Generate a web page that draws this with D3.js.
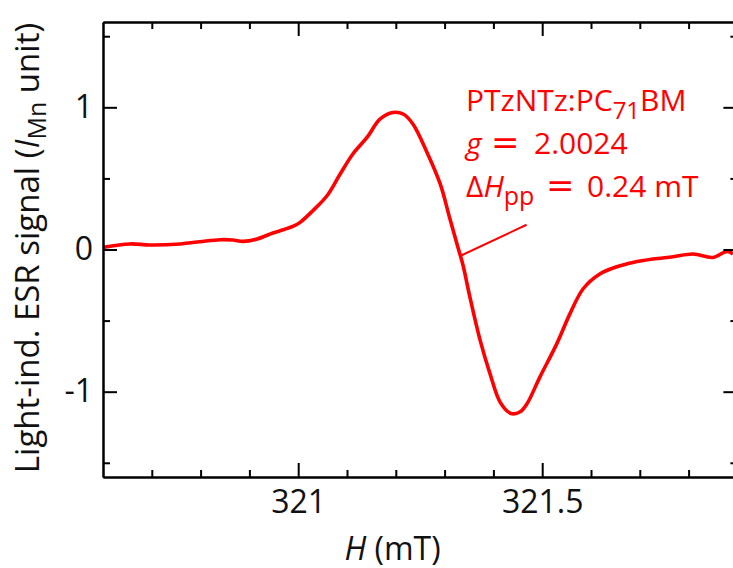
<!DOCTYPE html>
<html>
<head>
<meta charset="utf-8">
<script src="https://cdn.jsdelivr.net/npm/d3@7"></script>
<style>
  html, body { margin: 0; padding: 0; background: #fff; }
  svg { display: block; font-family: "Open Sans", sans-serif; }
</style>
</head>
<body>
<svg id="chart" width="733" height="568"></svg>
<script>
// ---- data ----
const fieldMT = [320.600, 320.655, 320.696, 320.758, 320.799, 320.840, 320.866, 320.887, 320.916, 320.948,
  320.963, 320.989, 321.004, 321.030, 321.059, 321.086, 321.112, 321.141, 321.168, 321.194,
  321.215, 321.235, 321.264, 321.291, 321.311, 321.327, 321.338, 321.352, 321.373, 321.393,
  321.414, 321.436, 321.455, 321.469, 321.495, 321.530, 321.557, 321.584, 321.618,
  321.653, 321.686, 321.727, 321.768, 321.809, 321.850, 321.879, 321.891];
const esrSignal = [0.015, 0.039, 0.032, 0.039, 0.055, 0.069, 0.067, 0.057, 0.074, 0.116,
  0.132, 0.162, 0.191, 0.273, 0.378, 0.531, 0.672, 0.788, 0.918, 0.964,
  0.953, 0.883, 0.683, 0.461, 0.214, 0.020, -0.114, -0.337, -0.641, -0.873,
  -1.075, -1.153, -1.141, -1.084, -0.899, -0.662, -0.451, -0.276, -0.172,
  -0.121, -0.091, -0.067, -0.051, -0.032, -0.056, -0.013, -0.032];
const xMajorTicks = [321, 321.5];
const xMinorTicks = [320.7, 320.8, 320.9, 321.1, 321.2, 321.3, 321.4, 321.6, 321.7, 321.8];
const yMajorTicks = [-1, 0, 1];
const yMinorTicks = [-1.5, -0.5, 0.5, 1.5];
const xDomain = [320.6, 321.9];
const yDomain = [-1.6, 1.6];
const pointerLine = [[321.333, -0.044], [321.468, 0.174]];

// ---- layout ----
const svg = d3.select("#chart");
const mL = 103, mT = 22, mB = 477, mR = 737.4;
const x = d3.scaleLinear().domain(xDomain).range([mL, mR]);
const y = d3.scaleLinear().domain(yDomain).range([mB, mT]);
const red = "#ff0000";

svg.append("defs").append("clipPath").attr("id", "clip")
  .append("rect").attr("x", mL).attr("y", mT).attr("width", mR - mL).attr("height", mB - mT);

// curve
const pts = fieldMT.map((h, i) => [h, esrSignal[i]]);
svg.append("path")
  .attr("clip-path", "url(#clip)")
  .attr("d", d3.line().x(d => x(d[0])).y(d => y(d[1])).curve(d3.curveCatmullRom.alpha(0.5))(pts))
  .attr("fill", "none").attr("stroke", red).attr("stroke-width", 3.6).attr("stroke-linejoin", "round");

// pointer line
svg.append("line")
  .attr("x1", x(pointerLine[0][0])).attr("y1", y(pointerLine[0][1]))
  .attr("x2", x(pointerLine[1][0])).attr("y2", y(pointerLine[1][1]))
  .attr("stroke", red).attr("stroke-width", 2);

// axes
const fmtY = d => d < 0 ? "-" + Math.abs(d) : String(d);
function styleAxis(g) {
  g.selectAll("path, line").attr("stroke", "#000").attr("stroke-width", 2);
  g.selectAll("text").attr("fill", "#111").attr("font-size", 32).attr("font-family", "'Open Sans', sans-serif");
}
// bottom
svg.append("g").attr("transform", `translate(0,${mB})`)
  .call(d3.axisBottom(x).tickValues(xMajorTicks).tickSizeInner(-14).tickSizeOuter(0).tickPadding(13).tickFormat(d => String(d)))
  .call(styleAxis);
svg.append("g").attr("transform", `translate(0,${mB})`)
  .call(d3.axisBottom(x).tickValues(xMinorTicks).tickSizeInner(-7).tickSizeOuter(0).tickFormat(""))
  .call(styleAxis);
// top
svg.append("g").attr("transform", `translate(0,${mT})`)
  .call(d3.axisTop(x).tickValues(xMajorTicks).tickSizeInner(-14).tickSizeOuter(0).tickFormat(""))
  .call(styleAxis);
svg.append("g").attr("transform", `translate(0,${mT})`)
  .call(d3.axisTop(x).tickValues(xMinorTicks).tickSizeInner(-7).tickSizeOuter(0).tickFormat(""))
  .call(styleAxis);
// left
svg.append("g").attr("transform", `translate(${mL},0)`)
  .call(d3.axisLeft(y).tickValues(yMajorTicks).tickSizeInner(-14).tickSizeOuter(0).tickPadding(10).tickFormat(fmtY))
  .call(styleAxis);
svg.append("g").attr("transform", `translate(${mL},0)`)
  .call(d3.axisLeft(y).tickValues(yMinorTicks).tickSizeInner(-7).tickSizeOuter(0).tickFormat(""))
  .call(styleAxis);
// right
svg.append("g").attr("transform", `translate(${mR},0)`)
  .call(d3.axisRight(y).tickValues(yMajorTicks).tickSizeInner(-14).tickSizeOuter(0).tickFormat(""))
  .call(styleAxis);
svg.append("g").attr("transform", `translate(${mR},0)`)
  .call(d3.axisRight(y).tickValues(yMinorTicks).tickSizeInner(-7).tickSizeOuter(0).tickFormat(""))
  .call(styleAxis);

// x title
const xt = svg.append("text").attr("x", 392.5).attr("y", 560).attr("text-anchor", "middle")
  .attr("font-size", 32).attr("fill", "#111");
xt.append("tspan").attr("font-style", "italic").text("H");
xt.append("tspan").text(" (mT)");

// y title
const yt = svg.append("text").attr("transform", "translate(39,248) rotate(-90)")
  .attr("text-anchor", "middle").attr("font-size", 33).attr("fill", "#111");
yt.append("tspan").text("Light-ind. ESR signal (");
yt.append("tspan").attr("font-style", "italic").text("I");
yt.append("tspan").attr("font-size", 25).attr("dy", 7).text("Mn");
yt.append("tspan").attr("dy", -7).text(" unit)");

// annotation
const ann = svg.append("g").attr("fill", red).attr("font-size", 30);
const a1 = ann.append("text").attr("x", 466).attr("y", 111);
a1.append("tspan").text("PTzNTz:PC");
a1.append("tspan").attr("font-size", 24).attr("dy", 8).text("71");
a1.append("tspan").attr("dy", -8).text("BM");
const a2 = ann.append("text").attr("y", 154);
a2.append("tspan").attr("x", 466).attr("font-style", "italic").text("g");
a2.append("tspan").attr("x", 491).attr("font-family", "'DejaVu Sans', sans-serif").attr("font-size", 34).text("=");
a2.append("tspan").attr("x", 534).text("2.0024");
const a3 = ann.append("text").attr("y", 197);
a3.append("tspan").attr("x", 466).text("Δ");
a3.append("tspan").attr("font-style", "italic").text("H");
a3.append("tspan").attr("font-size", 25).attr("dy", 8).text("pp");
a3.append("tspan").attr("x", 546).attr("dy", -8).attr("font-family", "'DejaVu Sans', sans-serif").attr("font-size", 34).text("=");
a3.append("tspan").attr("x", 587).text("0.24 mT");
</script>
</body>
</html>
